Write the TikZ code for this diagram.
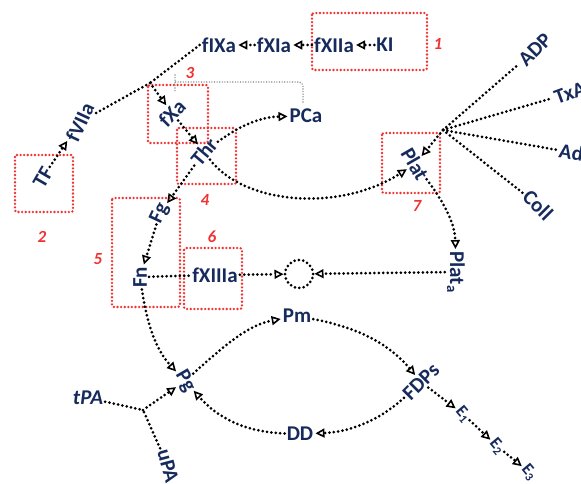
\documentclass[tikz,border=0pt]{standalone}
\usepackage{fontspec}
\setmainfont{Carlito}
\usetikzlibrary{arrows.meta}
\definecolor{navy}{RGB}{22,42,92}
\definecolor{rbred}{RGB}{240,50,50}
\definecolor{gline}{RGB}{150,150,150}
\begin{document}
\begin{tikzpicture}[x=1pt,y=-1pt,
 lbl/.style={font=\bfseries\fontsize{21}{21}\selectfont, text=navy, inner sep=2pt},
 slbl/.style={font=\bfseries\fontsize{17}{17}\selectfont, text=navy, inner sep=1.5pt},
 num/.style={font=\bfseries\itshape\fontsize{17}{17}\selectfont, text=rbred, inner sep=0pt},
 dotl/.style={draw=black, line width=3pt, dash pattern=on 0pt off 4.4pt, line cap=round},
 arr/.style={dotl, -{Triangle[open, length=9pt, width=9pt, line width=1.6pt]}},
 rbox/.style={draw=rbred, line width=2.6pt, dash pattern=on 0pt off 3.6pt, line cap=round, rounded corners=2pt},
 gray/.style={draw=gline, line width=1.6pt, dash pattern=on 0pt off 2.6pt, line cap=round},
]
\path[use as bounding box] (0,0) rectangle (581,484);
\clip (0,0) rectangle (581,484);

% red boxes and numbers
\draw[rbox] (312,13) rectangle (427,70);
\draw[rbox] (15,155) rectangle (73,212);
\draw[rbox] (148,85) rectangle (208,143);
\draw[rbox] (177,128) rectangle (236,184);
\draw[rbox] (112,198) rectangle (180,307);
\draw[rbox] (184,248) rectangle (242,309);
\draw[rbox] (382,133) rectangle (440,193);
\node[num] (n1) at (438,44) {1};
\node[num] (n2) at (42,237) {2};
\node[num] (n3) at (190,73) {3};
\node[num] (n4) at (205,200) {4};
\node[num] (n5) at (98,259) {5};
\node[num] (n6) at (212,237) {6};
\node[num] (n7) at (417,206) {7};

% labels
\node[lbl] (fIXa) at (219,45) {fIXa};
\node[lbl] (fXIa) at (274,45) {fXIa};
\node[lbl] (fXIIa) at (334,45) {fXIIa};
\node[lbl] (KI) at (385,45) {KI};
\node[lbl, rotate=65] (fVIIa) at (80,122) {fVIIa};
\node[lbl, rotate=60] (TF) at (43,177) {TF};
\node[lbl, rotate=45] (fXa) at (172,113) {fXa};
\node[lbl, rotate=50] (Thr) at (204,152) {Thr};
\node[lbl] (PCa) at (306,116) {PCa};
\node[lbl, rotate=-60] (Plat) at (415,164) {Plat};
\node[lbl, rotate=45] (ADP) at (535,50) {ADP};
\node[lbl, rotate=20] (TxA) at (570,93) {TxA};
\node[lbl, rotate=-10] (Adr) at (575,153) {Adr};
\node[lbl, rotate=-45] (Coll) at (538,205) {Coll};
\node[lbl, rotate=-90] (Plata) at (456,272) {Plat\textsubscript{a}};
\node[lbl, rotate=65] (Fg) at (160,213) {Fg};
\node[lbl, rotate=90] (Fn) at (140,277) {Fn};
\node[lbl] (fXIIIa) at (215,275) {fXIIIa};
\node[dotl, circle, minimum size=28pt, inner sep=0pt] (circ) at (299,274) {};
\node[lbl] (Pm) at (297,316) {Pm};
\node[lbl, rotate=-60] (Pg) at (185,381) {Pg};
\node[lbl, rotate=45] (FDPs) at (421,382) {FDPs};
\node[lbl] (DD) at (300,434) {DD};
\node[lbl, font=\bfseries\itshape\fontsize{21}{21}\selectfont] (tPA) at (88,398) {tPA};
\node[lbl, rotate=-75] (uPA) at (168,466) {uPA};
\node[slbl, rotate=-50] (E1) at (463,414) {E\textsubscript{1}};
\node[slbl, rotate=-50] (E2) at (497,446) {E\textsubscript{2}};
\node[slbl, rotate=-50] (E3) at (529,472) {E\textsubscript{3}};

% junctions
\coordinate (j1) at (150,83);
\coordinate (j2) at (443,130);
\coordinate (j3) at (143,410);
\coordinate (gT) at (175,82);
\coordinate (gA) at (175,75);
\coordinate (gB) at (175,92);
\coordinate (gC) at (303,102);

% gray inhibitor line
\draw[gray] (gA) -- (gB);
\draw[gray, rounded corners=4pt] (gC) |- (gT);

% connectors
\draw[arr] (fXIa) -- (fIXa);
\draw[arr] (fXIIa) -- (fXIa);
\draw[arr] (KI) -- (fXIIa);
\draw[dotl] (fIXa.west) -- (j1);
\draw[dotl] (j1) -- (fVIIa);
\draw[arr] (j1) -- (fXa);
\draw[arr] (TF) -- (fVIIa);
\draw[arr] (fXa) -- (Thr);
\draw[arr] (Thr) .. controls (242,124) and (262,117) .. (PCa);
\draw[arr] (Thr) .. controls (245,205) and (340,212) .. (Plat);
\draw[dotl] (j2) -- (ADP);
\draw[dotl] (j2) -- (TxA);
\draw[dotl] (j2) -- (Adr);
\draw[dotl] (j2) -- (Coll);
\draw[arr] (j2) -- (Plat);
\draw[arr] (Plat) .. controls (446,205) and (455,225) .. (Plata);
\draw[arr] (Plata) -- (circ);
\draw[arr] (fXIIIa) -- (circ);
\draw[dotl] (Fn) -- (fXIIIa);
\draw[arr] (Thr) -- (Fg);
\draw[arr] (Fg) -- (Fn);
\draw[arr] (Fn) .. controls (148,330) and (158,352) .. (Pg);
\draw[arr] (Pg) .. controls (225,345) and (248,325) .. (Pm);
\draw[arr] (Pm) .. controls (360,328) and (390,345) .. (FDPs);
\draw[arr] (FDPs) .. controls (380,420) and (350,432) .. (DD);
\draw[arr] (DD) .. controls (245,432) and (218,418) .. (Pg);
\draw[dotl] (tPA) -- (j3);
\draw[dotl] (uPA) -- (j3);
\draw[arr] (j3) -- (Pg);
\draw[arr] (FDPs) -- (E1);
\draw[arr] (E1) -- (E2);
\draw[arr] (E2) -- (E3);
\end{tikzpicture}
\end{document}
